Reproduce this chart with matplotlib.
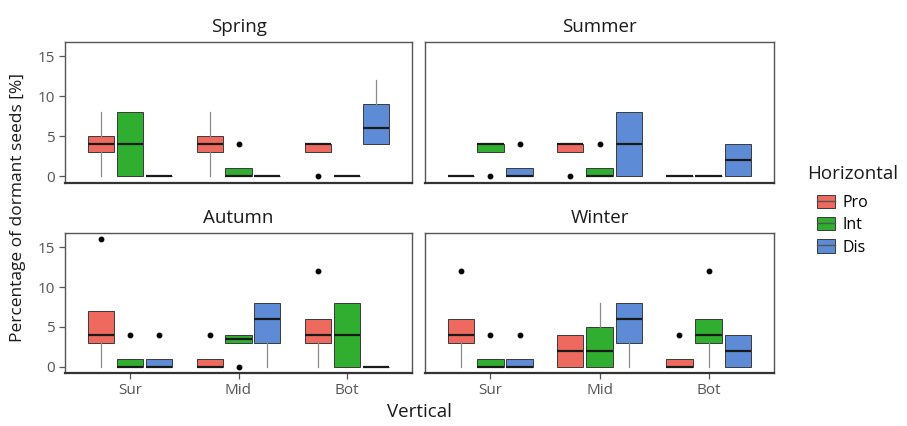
import numpy as np
import matplotlib
matplotlib.use('Agg')
import matplotlib.pyplot as plt
from matplotlib.patches import Patch
from matplotlib.lines import Line2D

plt.rcParams['font.family'] = ['Open Sans', 'DejaVu Sans']

seasons = ['Spring', 'Summer', 'Autumn', 'Winter']
verticals = ['Sur', 'Mid', 'Bot']
horizontals = ['Pro', 'Int', 'Dis']
colors = ['#EE6A5F', '#30AE30', '#5E8BD5']

# box stats per season, ordered Sur-Pro, Sur-Int, Sur-Dis, Mid-Pro, ... Bot-Dis
q1 = {
    'Spring': [3, 0, 0, 3, 0, 0, 3, 0, 4],
    'Summer': [0, 3, 0, 3, 0, 0, 0, 0, 0],
    'Autumn': [3, 0, 0, 0, 3, 3, 3, 0, 0],
    'Winter': [3, 0, 0, 0, 0, 3, 0, 3, 0],
}
med = {
    'Spring': [4, 4, 0, 4, 0, 0, 4, 0, 6],
    'Summer': [0, 4, 0, 4, 0, 4, 0, 0, 2],
    'Autumn': [4, 0, 0, 0, 3.5, 6, 4, 4, 0],
    'Winter': [4, 0, 0, 2, 2, 6, 0, 4, 2],
}
q3 = {
    'Spring': [5, 8, 0, 5, 1, 0, 4, 0, 9],
    'Summer': [0, 4, 1, 4, 1, 8, 0, 0, 4],
    'Autumn': [7, 1, 1, 1, 4, 8, 6, 8, 0],
    'Winter': [6, 1, 1, 4, 5, 8, 1, 6, 4],
}
whis_lo = {
    'Spring': [0, 0, 0, 0, 0, 0, 3, 0, 4],
    'Summer': [0, 3, 0, 3, 0, 0, 0, 0, 0],
    'Autumn': [0, 0, 0, 0, 3, 0, 0, 0, 0],
    'Winter': [0, 0, 0, 0, 0, 0, 0, 0, 0],
}
whis_hi = {
    'Spring': [8, 8, 0, 8, 1, 0, 4, 0, 12],
    'Summer': [0, 4, 1, 4, 1, 8, 0, 0, 4],
    'Autumn': [7, 1, 1, 1, 4, 8, 6, 8, 0],
    'Winter': [6, 1, 1, 4, 8, 8, 1, 6, 4],
}
outliers = {
    'Spring': [[], [], [], [], [4], [], [0], [], []],
    'Summer': [[], [0], [4], [0], [4], [], [], [], []],
    'Autumn': [[16], [4], [4], [4], [0], [], [12], [], []],
    'Winter': [[12], [4], [4], [], [], [], [4], [12], []],
}

fig = plt.figure(figsize=(9.07, 4.26), dpi=100)
W, H = 907, 426
boxes = {
    'Spring': (65, 42, 412, 182.5),
    'Summer': (425, 42, 774, 182.5),
    'Autumn': (65, 233, 412, 373),
    'Winter': (425, 233, 774, 373),
}

dodge = 0.267
bw = 0.24
edge = '#3a3a3a'

for si, s in enumerate(seasons):
    x0, y0, x1, y1 = boxes[s]
    ax = fig.add_axes([x0 / W, 1 - y1 / H, (x1 - x0) / W, (y1 - y0) / H])
    for k in range(9):
        vi, hi = divmod(k, 3)
        pos = vi + 1 + (hi - 1) * dodge
        st = dict(q1=q1[s][k], med=med[s][k], q3=q3[s][k],
                  whislo=whis_lo[s][k], whishi=whis_hi[s][k], fliers=outliers[s][k])
        ax.bxp([st], positions=[pos], widths=bw, patch_artist=True, showcaps=False,
               boxprops=dict(facecolor=colors[hi], edgecolor=edge, linewidth=0.7),
               medianprops=dict(color='#1a1a1a', linewidth=1.6),
               whiskerprops=dict(color='#8a8a8a', linewidth=0.9),
               flierprops=dict(marker='o', markerfacecolor='black', markeredgecolor='black',
                               markersize=3.2))
    ax.set_xlim(0.4, 3.6)
    ax.set_ylim(-0.8, 16.8)
    ax.set_yticks([0, 5, 10, 15])
    ax.set_xticks([1, 2, 3])
    for sp in ax.spines.values():
        sp.set_color('#555555')
        sp.set_linewidth(1.0)
    ax.spines['bottom'].set_linewidth(1.6)
    ax.spines['bottom'].set_color('#333333')
    ax.tick_params(colors='#555555', labelcolor='#555555', labelsize=11, length=4, width=0.9)
    if si % 2 == 0:
        ax.set_yticklabels(['0', '5', '10', '15'])
    else:
        ax.tick_params(axis='y', left=False, labelleft=False)
    if si >= 2:
        ax.set_xticklabels(verticals)
    else:
        ax.tick_params(axis='x', bottom=False, labelbottom=False)
    ax.set_title(s, fontsize=13.5, color='#1a1a1a', pad=7)

fig.text(18 / W, 1 - 208 / H, 'Percentage of dormant seeds [%]', rotation=90,
         ha='center', va='center', fontsize=12.5, color='#1a1a1a')
fig.text(419 / W, 1 - 412 / H, 'Vertical', ha='center', va='center', fontsize=13.5,
         color='#1a1a1a')

# legend
fig.text(807 / W, 1 - 174 / H, 'Horizontal', ha='left', va='center', fontsize=13.5,
         color='#1a1a1a')
handles = [(Patch(facecolor=c, edgecolor=edge, linewidth=0.7),
            Line2D([], [], color='#555555', linewidth=1.0)) for c in colors]
fig.legend(handles, horizontals, loc='upper left',
           bbox_to_anchor=(817 / W, 1 - 195 / H), frameon=False, fontsize=11.5,
           handlelength=1.1, handleheight=0.9, labelspacing=0.38,
           handletextpad=0.5, borderaxespad=0, borderpad=0)

fig.savefig('out.png', dpi=100)
